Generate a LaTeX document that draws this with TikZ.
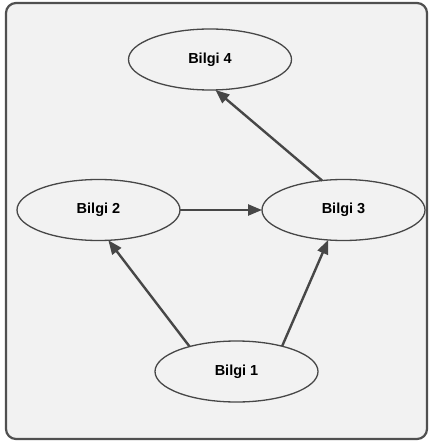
\documentclass[tikz,border=0pt]{standalone}
\usepackage{fontspec}
\setmainfont{Liberation Sans}
\usetikzlibrary{shapes.geometric,arrows.meta}
\definecolor{bgfill}{HTML}{F2F2F2}
\definecolor{edgecol}{HTML}{474747}
\definecolor{framecol}{HTML}{505050}
\begin{document}
\begin{tikzpicture}[x=1pt,y=-1pt,
  info/.style={ellipse,draw=edgecol,line width=1.3pt,fill=bgfill,minimum width=163pt,minimum height=61pt,inner sep=0pt,outer sep=0pt,font=\fontsize{14.5}{16}\selectfont\bfseries},
  link/.style={draw=edgecol,line width=2.4pt,-{Triangle[length=14pt,width=11pt]}}]
\useasboundingbox (0,0) rectangle (430,443);
\fill[white] (0,0) rectangle (430,443);
\draw[framecol,line width=2.2pt,fill=bgfill,rounded corners=10pt] (6,3) rectangle (427,439);
\node[info] (b4) at (210,59.5) {Bilgi 4};
\node[info] (b2) at (98.5,210) {Bilgi 2};
\node[info] (b3) at (343.5,210) {Bilgi 3};
\node[info] (b1) at (236.5,371.5) {Bilgi 1};
\draw[link] (b1.152) -- (b2.-72.4);
\draw[link] (b1.29.4) -- (b3.-117.3);
\draw[link] (b2.east) -- (b3.west);
\draw[link] (b3.126.6) -- (b4.-80.7);
\end{tikzpicture}
\end{document}
